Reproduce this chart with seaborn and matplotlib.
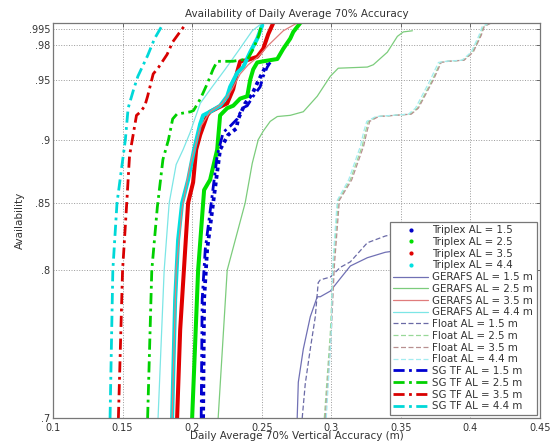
import numpy as np
import pandas as pd
import seaborn as sns
import matplotlib
matplotlib.use('Agg')
import matplotlib.pyplot as plt
from matplotlib.lines import Line2D
from matplotlib.ticker import FixedLocator, NullLocator, FixedFormatter

# values (accuracy in m, availability)
triplex_15_x = [0.2079, 0.2086, 0.2108, 0.2151, 0.2201, 0.2259, 0.2317, 0.2331, 0.2381, 0.2432, 0.2475, 0.2518, 0.2547]
triplex_15_y = [0.700, 0.779, 0.815, 0.850, 0.892, 0.904, 0.909, 0.917, 0.930, 0.938, 0.949, 0.959, 0.964]
triplex_25_x = [0.2000, 0.2043, 0.2079, 0.2086, 0.2129, 0.2180, 0.2201, 0.2252, 0.2295, 0.2345, 0.2396, 0.2417,
                0.2439, 0.2468, 0.2511, 0.2612, 0.2655, 0.2705, 0.2727, 0.2777]
triplex_25_y = [0.700, 0.800, 0.850, 0.860, 0.868, 0.892, 0.920, 0.926, 0.928, 0.934, 0.936, 0.950,
                0.959, 0.965, 0.966, 0.968, 0.977, 0.986, 0.992, 1.000]
triplex_35_x = [0.1892, 0.1914, 0.1950, 0.1971, 0.2007, 0.2029, 0.2058, 0.2108, 0.2129, 0.2180, 0.2252, 0.2295,
                0.2324, 0.2345, 0.2396, 0.2468, 0.2511, 0.2547, 0.2583]
triplex_35_y = [0.700, 0.758, 0.815, 0.850, 0.866, 0.892, 0.904, 0.920, 0.923, 0.926, 0.930, 0.942,
                0.957, 0.966, 0.967, 0.970, 0.977, 0.990, 1.000]
triplex_44_x = [0.1856, 0.1878, 0.1899, 0.1928, 0.1971, 0.2014, 0.2058, 0.2079, 0.2129, 0.2201, 0.2252, 0.2273,
                0.2324, 0.2367, 0.2417, 0.2468, 0.2504]
triplex_44_y = [0.700, 0.779, 0.822, 0.850, 0.868, 0.892, 0.913, 0.920, 0.923, 0.928, 0.936, 0.944,
                0.956, 0.961, 0.974, 0.986, 0.998]

gerafs_15_x = [0.2755, 0.2763, 0.2799, 0.2849, 0.2899, 0.2921, 0.2993, 0.3065, 0.3137, 0.3259, 0.3388, 0.3600]
gerafs_15_y = [0.700, 0.723, 0.745, 0.767, 0.781, 0.781, 0.785, 0.794, 0.803, 0.809, 0.813, 0.816]
gerafs_25_x = [0.2187, 0.2252, 0.2381, 0.2432, 0.2475, 0.2511, 0.2561, 0.2612, 0.2705, 0.2799, 0.2899, 0.2993,
               0.3050, 0.3259, 0.3302, 0.3403, 0.3475, 0.3518, 0.3583]
gerafs_25_y = [0.700, 0.800, 0.850, 0.881, 0.900, 0.907, 0.915, 0.919, 0.920, 0.923, 0.936, 0.953,
               0.960, 0.961, 0.963, 0.974, 0.988, 0.992, 0.993]
gerafs_35_x = [0.1856, 0.1885, 0.1928, 0.1986, 0.2058, 0.2129, 0.2216, 0.2288, 0.2345, 0.2403, 0.2475, 0.2547,
               0.2655, 0.2755]
gerafs_35_y = [0.700, 0.800, 0.846, 0.880, 0.910, 0.923, 0.930, 0.942, 0.955, 0.963, 0.970, 0.980,
               0.993, 1.000]
gerafs_44_x = [0.1755, 0.1799, 0.1835, 0.1885, 0.1935, 0.1986, 0.2058, 0.2144, 0.2237, 0.2331, 0.2432, 0.2504]
gerafs_44_y = [0.700, 0.800, 0.850, 0.880, 0.892, 0.906, 0.930, 0.944, 0.959, 0.975, 0.993, 1.000]

float_15_x = [0.2791, 0.2813, 0.2849, 0.2885, 0.2906, 0.2921, 0.2993, 0.3065, 0.3137, 0.3259, 0.3388, 0.3600]
float_15_y = [0.700, 0.722, 0.745, 0.767, 0.791, 0.793, 0.795, 0.802, 0.806, 0.820, 0.825, 0.830]
float_25_x = [0.2950, 0.2993, 0.3014, 0.3050, 0.3137, 0.3223, 0.3245, 0.3266, 0.3331, 0.3568, 0.3619, 0.3727,
              0.3784, 0.3835, 0.3950, 0.4014, 0.4072, 0.4094, 0.4144, 0.4504]
float_25_y = [0.700, 0.756, 0.803, 0.852, 0.868, 0.895, 0.906, 0.915, 0.919, 0.921, 0.926, 0.950,
              0.965, 0.966, 0.967, 0.974, 0.989, 0.997, 1.000, 1.000]
float_35_x = [0.2957, 0.3000, 0.3022, 0.3058, 0.3147, 0.3233, 0.3255, 0.3276, 0.3340, 0.3575, 0.3626, 0.3734,
              0.3790, 0.3840, 0.3955, 0.4020, 0.4078, 0.4100, 0.4150, 0.4504]
float_35_y = float_25_y
float_44_x = [0.2964, 0.3000, 0.3010, 0.3043, 0.3125, 0.3210, 0.3232, 0.3255, 0.3320, 0.3555, 0.3605, 0.3712,
              0.3770, 0.3825, 0.3940, 0.4005, 0.4062, 0.4085, 0.4135, 0.4504]
float_44_y = float_25_y

sgtf_15_x = [0.2065, 0.2072, 0.2094, 0.2137, 0.2180, 0.2223, 0.2273, 0.2324, 0.2360, 0.2396, 0.2439, 0.2489,
             0.2511, 0.2540, 0.2561]
sgtf_15_y = [0.700, 0.779, 0.815, 0.850, 0.887, 0.906, 0.911, 0.917, 0.926, 0.928, 0.936, 0.944,
             0.953, 0.961, 0.965]
sgtf_25_x = [0.168, 0.171, 0.175, 0.179, 0.183, 0.186, 0.189, 0.199, 0.201, 0.206, 0.211, 0.215, 0.218, 0.229,
             0.240, 0.244, 0.248, 0.250]
sgtf_25_y = [0.700, 0.800, 0.847, 0.884, 0.900, 0.917, 0.921, 0.923, 0.924, 0.934, 0.947, 0.959, 0.966, 0.966,
             0.968, 0.977, 0.989, 1.000]
sgtf_35_x = [0.147, 0.150, 0.153, 0.155, 0.157, 0.160, 0.163, 0.166, 0.168, 0.172, 0.176, 0.182, 0.186, 0.193,
             0.196]
sgtf_35_y = [0.700, 0.800, 0.850, 0.887, 0.900, 0.920, 0.923, 0.928, 0.936, 0.955, 0.961, 0.972, 0.983, 0.995,
             1.000]
sgtf_44_x = [0.141, 0.143, 0.146, 0.152, 0.154, 0.158, 0.161, 0.168, 0.173, 0.179]
sgtf_44_y = [0.700, 0.800, 0.850, 0.900, 0.926, 0.942, 0.953, 0.971, 0.986, 0.999]

x_ticks = [0.1, 0.15, 0.2, 0.25, 0.3, 0.35, 0.4, 0.45]
x_tick_labels = ['0.1', '0.15', '0.2', '0.25', '0.3', '0.35', '0.4', '0.45']
y_ticks = [0.7, 0.8, 0.85, 0.9, 0.95, 0.98, 0.995]
y_tick_labels = ['.7', '.8', '.85', '.9', '.95', '.98', '.995']

DOTTED = (0, (1, 1))
DASHED = (0, (4, 2))
DASHDOT = (0, (4, 1.6, 1, 1.6))

series = [
    ('Triplex AL = 1.5', triplex_15_x, triplex_15_y, '#0000c8', DOTTED, 2.7, 'dot'),
    ('Triplex AL = 2.5', triplex_25_x, triplex_25_y, '#00e000', '-', 2.9, 'dot'),
    ('Triplex AL = 3.5', triplex_35_x, triplex_35_y, '#e00000', '-', 2.9, 'dot'),
    ('Triplex AL = 4.4', triplex_44_x, triplex_44_y, '#00e0e0', '-', 2.9, 'dot'),
    ('GERAFS AL = 1.5 m', gerafs_15_x, gerafs_15_y, '#7070b4', '-', 0.9, 'line'),
    ('GERAFS AL = 2.5 m', gerafs_25_x, gerafs_25_y, '#7ccc7c', '-', 0.9, 'line'),
    ('GERAFS AL = 3.5 m', gerafs_35_x, gerafs_35_y, '#e07c7c', '-', 0.9, 'line'),
    ('GERAFS AL = 4.4 m', gerafs_44_x, gerafs_44_y, '#7ce6e6', '-', 0.9, 'line'),
    ('Float AL = 1.5 m', float_15_x, float_15_y, '#6a6aa6', DASHED, 0.9, 'line'),
    ('Float AL = 2.5 m', float_25_x, float_25_y, '#98d898', DASHED, 0.9, 'line'),
    ('Float AL = 3.5 m', float_35_x, float_35_y, '#b89090', DASHED, 0.9, 'line'),
    ('Float AL = 4.4 m', float_44_x, float_44_y, '#a4ecf0', DASHED, 0.9, 'line'),
    ('SG TF AL = 1.5 m', sgtf_15_x, sgtf_15_y, '#0000d0', DASHDOT, 2.0, 'line'),
    ('SG TF AL = 2.5 m', sgtf_25_x, sgtf_25_y, '#00d000', DASHDOT, 2.0, 'line'),
    ('SG TF AL = 3.5 m', sgtf_35_x, sgtf_35_y, '#d80000', DASHDOT, 2.0, 'line'),
    ('SG TF AL = 4.4 m', sgtf_44_x, sgtf_44_y, '#00d8d8', DASHDOT, 2.0, 'line'),
]

sns.set_style('white')
plt.rcParams['font.family'] = ['DejaVu Sans']
text_color = '#333333'

fig = plt.figure(figsize=(5.52, 4.43), dpi=100)
ax = fig.add_axes([53 / 552, 1 - 418 / 443, 487 / 552, 395 / 443])

handles = []
for label, xs, ys, color, ls, lw, kind in series:
    df = pd.DataFrame({'x': xs, 'y': ys})
    sns.lineplot(data=df, x='x', y='y', ax=ax, color=color, linestyle=ls, linewidth=lw,
                 sort=False, estimator=None, legend=False)
    if kind == 'dot':
        handles.append(Line2D([], [], linestyle='none', marker='.', markersize=4, color=color, label=label))
    else:
        handles.append(Line2D([], [], linestyle=ls, linewidth=lw, color=color, label=label))

ax.set_yscale('log')
ax.set_xlim(0.1, 0.45)
ax.set_ylim(0.7, 1.0)
ax.xaxis.set_major_locator(FixedLocator(x_ticks))
ax.xaxis.set_major_formatter(FixedFormatter(x_tick_labels))
ax.yaxis.set_major_locator(FixedLocator(y_ticks))
ax.yaxis.set_major_formatter(FixedFormatter(y_tick_labels))
ax.yaxis.set_minor_locator(NullLocator())
ax.xaxis.set_minor_locator(NullLocator())

ax.grid(True, linestyle=':', color='#9a9a9a', linewidth=0.7)
ax.tick_params(direction='in', length=3, width=0.7, colors='#666666', labelcolor=text_color,
               labelsize=7, pad=2, top=True, right=True)
ax.tick_params(axis='x', pad=3.5)
for sp in ax.spines.values():
    sp.set_color('#777777')
    sp.set_linewidth(0.9)

ax.set_title('Availability of Daily Average 70% Accuracy', fontsize=7.5, color=text_color, pad=4)
ax.set_xlabel('Daily Average 70% Vertical Accuracy (m)', fontsize=7.5, color=text_color, labelpad=-1)
ax.set_ylabel('Availability', fontsize=7.5, color=text_color, labelpad=3)

leg = ax.legend(handles=handles, loc='lower right', fontsize=7.4, labelspacing=0.17, handlelength=3.4,
                handletextpad=0.4, borderpad=0.35, borderaxespad=0.3, fancybox=False, framealpha=1,
                edgecolor='#777777')
leg.get_frame().set_linewidth(0.9)
for t in leg.get_texts():
    t.set_color(text_color)

fig.savefig('out.png', dpi=100)
